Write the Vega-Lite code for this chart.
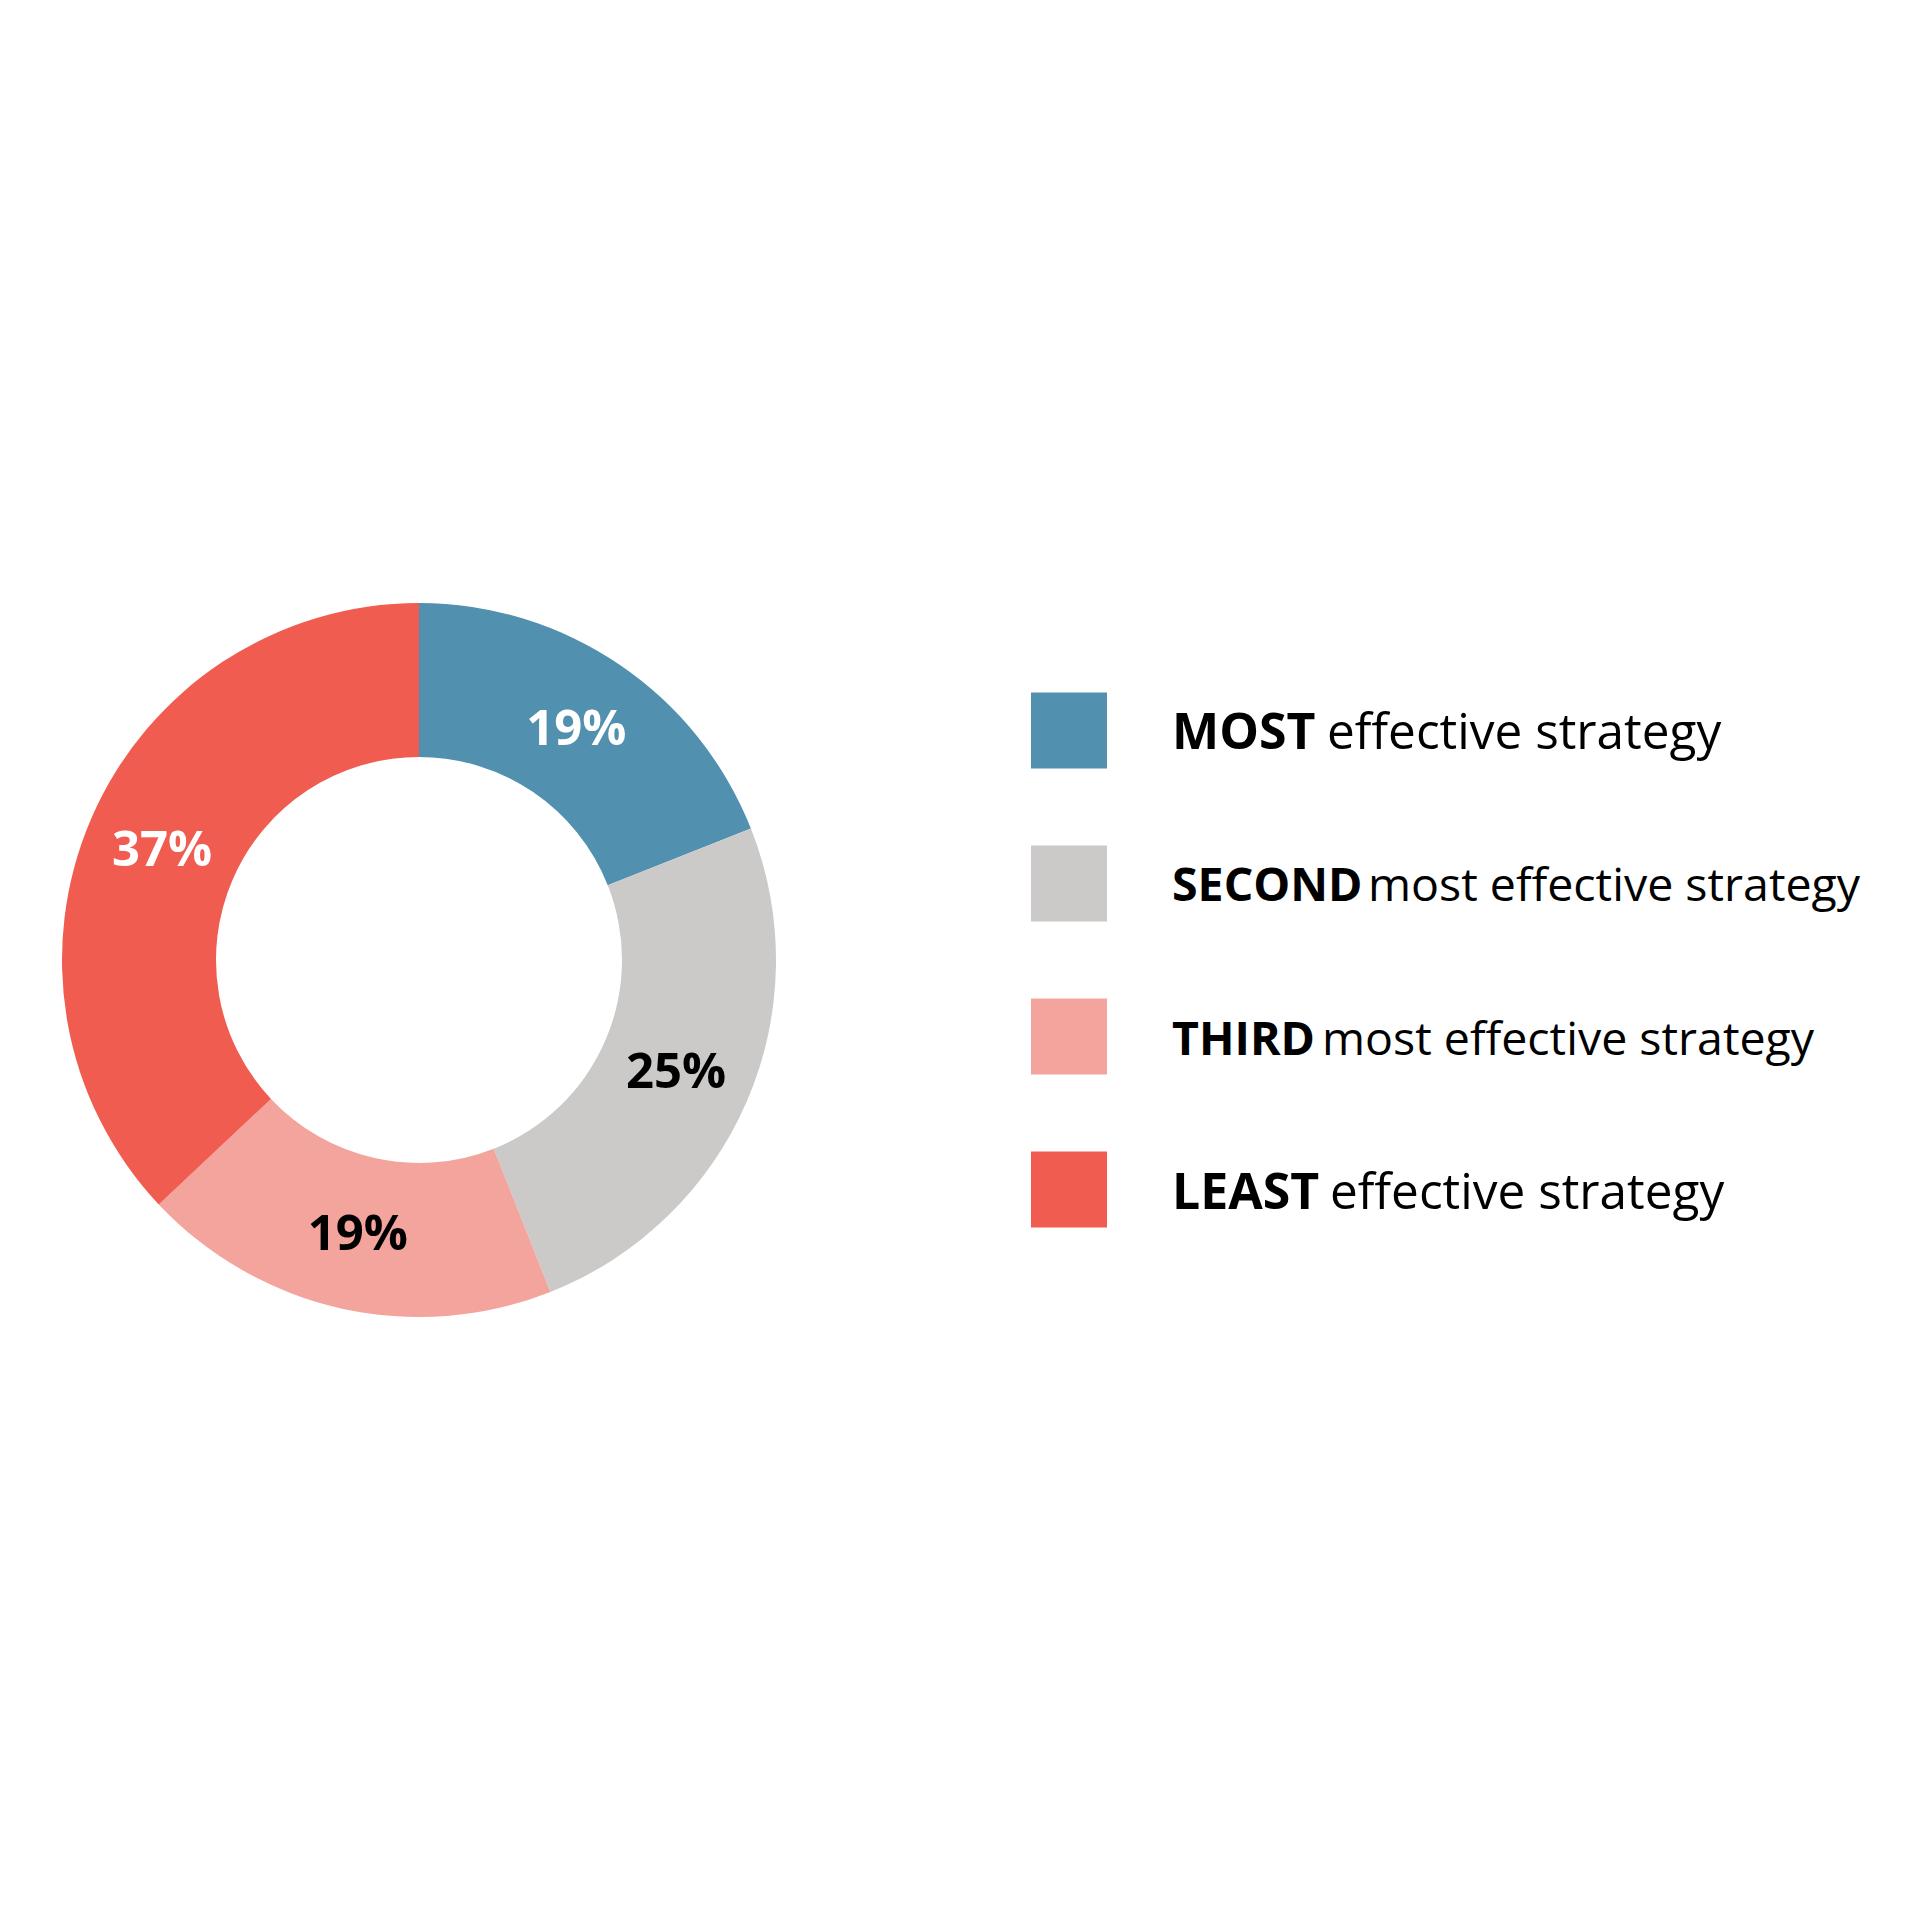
{
  "$schema": "https://vega.github.io/schema/vega-lite/v6.json",
  "padding": {"left": 62, "top": 603, "right": 0, "bottom": 0},
  "bounds": "flush",
  "spacing": 255,
  "background": "white",
  "config": {"view": {"stroke": null}, "font": "Open Sans"},
  "data": {
    "values": [
      {"rank": 1, "category": "MOST", "rest": "effective strategy", "value": 19, "label": "19%"},
      {"rank": 2, "category": "SECOND", "rest": "most effective strategy", "value": 25, "label": "25%"},
      {"rank": 3, "category": "THIRD", "rest": "most effective strategy", "value": 19, "label": "19%"},
      {"rank": 4, "category": "LEAST", "rest": "effective strategy", "value": 37, "label": "37%"}
    ]
  },
  "hconcat": [
    {
      "width": 714,
      "height": 714,
      "encoding": {
        "theta": {"field": "value", "type": "quantitative", "stack": true},
        "order": {"field": "rank", "type": "quantitative"}
      },
      "layer": [
        {
          "mark": {"type": "arc", "outerRadius": 357, "innerRadius": 203},
          "encoding": {
            "color": {
              "field": "category", "type": "nominal",
              "scale": {"domain": ["MOST", "SECOND", "THIRD", "LEAST"], "range": ["#5190AE", "#CBCAC8", "#F3A49C", "#F15C50"]},
              "legend": null
            }
          }
        },
        {
          "mark": {"type": "text", "radius": 280, "font": "Open Sans", "fontWeight": "bold", "fontSize": 49, "align": "center", "baseline": "middle", "dy": 2},
          "encoding": {
            "text": {"field": "label"},
            "color": {
              "condition": {"test": "datum.category === 'MOST' || datum.category === 'LEAST'", "value": "#ffffff"},
              "value": "#000000"
            }
          }
        }
      ]
    },
    {
      "width": 830,
      "height": 714,
      "encoding": {
        "y": {"field": "category", "type": "nominal", "sort": ["MOST", "SECOND", "THIRD", "LEAST"], "scale": {"type": "point", "padding": 0.833}, "axis": null}
      },
      "layer": [
        {
          "mark": {"type": "square", "size": 5776, "filled": true, "opacity": 1},
          "encoding": {
            "x": {"datum": 38, "type": "quantitative", "scale": {"domain": [0, 830], "range": [0, 830], "nice": false, "zero": false}, "axis": null},
            "color": {
              "field": "category", "type": "nominal",
              "scale": {"domain": ["MOST", "SECOND", "THIRD", "LEAST"], "range": ["#5190AE", "#CBCAC8", "#F3A49C", "#F15C50"]},
              "legend": null
            }
          }
        },
        {
          "transform": [{"filter": "datum.category === 'MOST' || datum.category === 'LEAST'"}],
          "mark": {"type": "text", "font": "Open Sans", "fontWeight": "bold", "fontSize": 50, "align": "left", "baseline": "alphabetic", "dy": 19, "color": "#000000"},
          "encoding": {
            "x": {"datum": 141, "type": "quantitative"},
            "text": {"field": "category"}
          }
        },
        {
          "transform": [{"filter": "datum.category === 'SECOND' || datum.category === 'THIRD'"}],
          "mark": {"type": "text", "font": "Open Sans", "fontWeight": "bold", "fontSize": 46.5, "align": "left", "baseline": "alphabetic", "dy": 18, "color": "#000000"},
          "encoding": {
            "x": {"datum": 141, "type": "quantitative"},
            "text": {"field": "category"}
          }
        },
        {
          "transform": [{"filter": "datum.category === 'MOST'"}],
          "mark": {"type": "text", "font": "Open Sans", "fontSize": 49.5, "align": "left", "baseline": "alphabetic", "dy": 19, "color": "#000000"},
          "encoding": {"x": {"datum": 296, "type": "quantitative"}, "text": {"field": "rest"}}
        },
        {
          "transform": [{"filter": "datum.category === 'SECOND'"}],
          "mark": {"type": "text", "font": "Open Sans", "fontSize": 46.5, "align": "left", "baseline": "alphabetic", "dy": 18, "color": "#000000"},
          "encoding": {"x": {"datum": 337, "type": "quantitative"}, "text": {"field": "rest"}}
        },
        {
          "transform": [{"filter": "datum.category === 'THIRD'"}],
          "mark": {"type": "text", "font": "Open Sans", "fontSize": 46.5, "align": "left", "baseline": "alphabetic", "dy": 18, "color": "#000000"},
          "encoding": {"x": {"datum": 291, "type": "quantitative"}, "text": {"field": "rest"}}
        },
        {
          "transform": [{"filter": "datum.category === 'LEAST'"}],
          "mark": {"type": "text", "font": "Open Sans", "fontSize": 49.5, "align": "left", "baseline": "alphabetic", "dy": 19, "color": "#000000"},
          "encoding": {"x": {"datum": 299, "type": "quantitative"}, "text": {"field": "rest"}}
        }
      ]
    }
  ]
}
